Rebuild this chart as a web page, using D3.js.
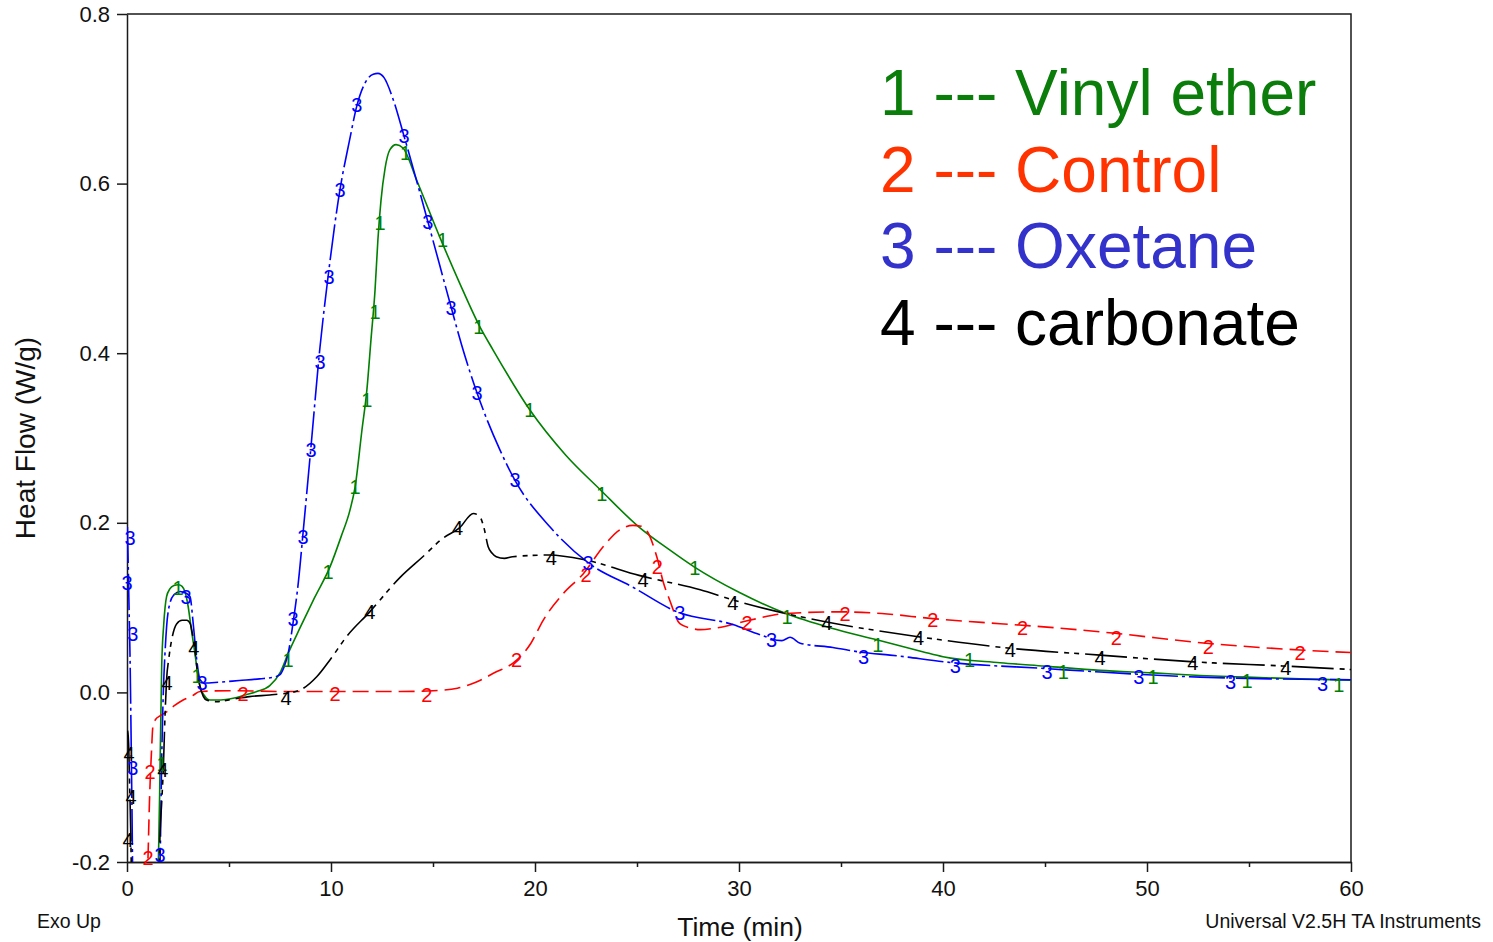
<!DOCTYPE html>
<html lang="en">
<head>
    <meta charset="UTF-8">
    <script src="https://d3js.org/d3.v7.min.js"></script>
    <style>
        body { margin: 0; background: #fff; }
        svg { display: block; font-family: "Liberation Sans", Arial, sans-serif; }
        .axis path, .axis line { stroke: #1a1a1a; stroke-width: 1.5px; }
        .axis text { font-size: 22px; fill: #111; font-family: "Liberation Sans", Arial, sans-serif; }
        .frame { stroke: #1a1a1a; stroke-width: 1.5px; fill: none; }
        .axis-title { font-size: 26.5px; fill: #111; }
        .footer { font-size: 19.5px; fill: #111; }
        .curve-label { font-size: 20px; text-anchor: middle; dominant-baseline: central; }
        .legend { font-size: 64px; }
    </style>
    <title>Heat Flow vs Time</title>
</head>
<body>
<div id="chart"></div>
<script>
// ---- data ----
// 1 --- Vinyl ether
const t1 = [1.5, 1.54, 1.6, 1.7, 1.8, 1.94, 2.1, 2.3, 2.52, 2.7, 2.85, 3.0, 3.15, 3.33, 3.45, 3.58, 3.8, 4.07, 4.6, 5.2, 5.8, 6.36, 7.0, 7.5, 7.9, 8.48, 9.2, 9.95, 10.5, 10.93, 11.18, 11.52, 11.76, 11.96, 12.16, 12.3, 12.45, 12.65, 12.89, 13.19, 13.53, 14.2, 15.4, 16.3, 17.3, 17.94, 19.75, 21.5, 23.2, 25.1, 26.6, 27.8, 30, 32.3, 34.5, 36.75, 39, 40, 42.8, 45, 47.7, 50.3, 52.6, 54.9, 57.5, 60];
const v1 = [-0.25, -0.198, -0.12, 0.03, 0.08, 0.113, 0.122, 0.126, 0.127, 0.125, 0.118, 0.101, 0.075, 0.046, 0.025, 0.007, -0.004, -0.009, -0.009, -0.007, -0.003, 0.001, 0.008, 0.023, 0.046, 0.076, 0.112, 0.148, 0.184, 0.215, 0.242, 0.31, 0.357, 0.416, 0.475, 0.534, 0.58, 0.618, 0.64, 0.646, 0.642, 0.604, 0.533, 0.483, 0.431, 0.404, 0.333, 0.28, 0.239, 0.195, 0.168, 0.148, 0.118, 0.093, 0.076, 0.062, 0.048, 0.042, 0.035, 0.031, 0.026, 0.023, 0.02, 0.018, 0.016, 0.0145];
const lab1 = [[1.72, -0.085], [2.5, 0.123], [3.43, 0.019], [7.89, 0.038], [9.85, 0.142], [11.18, 0.242], [11.76, 0.345], [12.16, 0.449], [12.4, 0.553], [13.66, 0.636], [15.47, 0.533], [17.25, 0.431], [19.75, 0.333], [23.28, 0.234], [27.84, 0.147], [32.35, 0.089], [36.8, 0.056], [41.3, 0.038], [45.9, 0.024], [50.3, 0.018], [54.9, 0.014], [59.4, 0.009]];

// 2 --- Control
const t2 = [0.95, 1.03, 1.1, 1.2, 1.27, 1.4, 1.6, 1.94, 2.3, 2.75, 3.2, 3.58, 5, 8, 11, 13.4, 15, 16.2, 17.1, 17.96, 19.1, 19.8, 20.4, 21.4, 22.37, 23.35, 24.17, 24.8, 25.2, 25.5, 25.97, 26.3, 26.6, 27.1, 27.6, 28.1, 28.9, 30.5, 32.3, 34.95, 37, 39.5, 42.8, 45.1, 48.3, 52.9, 57.5, 60];
const v2 = [-0.25, -0.194, -0.13, -0.07, -0.04, -0.032, -0.028, -0.023, -0.016, -0.009, -0.004, 0.001, 0.002, 0.001, 0.001, 0.001, 0.002, 0.005, 0.012, 0.0225, 0.038, 0.058, 0.085, 0.117, 0.14, 0.172, 0.192, 0.197, 0.196, 0.19, 0.16, 0.129, 0.109, 0.081, 0.076, 0.074, 0.076, 0.085, 0.093, 0.095, 0.093, 0.087, 0.081, 0.077, 0.07, 0.058, 0.05, 0.047];
const lab2 = [[1.03, -0.195], [1.13, -0.094], [5.69, -0.002], [10.2, -0.002], [14.7, -0.003], [19.1, 0.038], [22.5, 0.139], [26.0, 0.148], [30.4, 0.082], [35.2, 0.092], [39.5, 0.085], [43.9, 0.076], [48.5, 0.064], [53.0, 0.053], [57.5, 0.046]];

// 3 --- Oxetane
const t3 = [0.02, 0.06, 0.1, 0.15, 0.2, 0.25, 0.3, 1.5, 1.62, 1.7, 1.78, 1.86, 1.94, 2.1, 2.3, 2.6, 2.9, 3.09, 3.25, 3.42, 3.58, 3.8, 4.5, 5.5, 6.5, 7.2, 7.5, 7.7, 7.9, 8.14, 8.4, 8.63, 9.02, 9.46, 9.85, 10.44, 10.9, 11.27, 11.7, 12.07, 12.3, 12.6, 13.05, 13.58, 14.75, 15.88, 16.4, 17.16, 18.28, 19.02, 20.74, 22.6, 24.8, 26.96, 29.7, 31.03, 32.1, 32.5, 33.0, 34.6, 36.1, 37.4, 40.5, 45.1, 47.7, 52.6, 56, 60];
const v3 = [0.195, 0.15, 0.1, 0.04, -0.05, -0.15, -0.25, -0.25, -0.2, -0.08, 0.0, 0.045, 0.077, 0.105, 0.115, 0.119, 0.117, 0.113, 0.08, 0.038, 0.015, 0.011, 0.012, 0.014, 0.016, 0.018, 0.021, 0.03, 0.046, 0.082, 0.13, 0.188, 0.29, 0.407, 0.489, 0.593, 0.65, 0.692, 0.72, 0.729, 0.73, 0.725, 0.699, 0.656, 0.555, 0.455, 0.41, 0.353, 0.286, 0.25, 0.195, 0.153, 0.124, 0.095, 0.08, 0.068, 0.061, 0.065, 0.058, 0.053, 0.047, 0.044, 0.035, 0.028, 0.024, 0.018, 0.016, 0.015];
const lab3 = [[0.15, 0.182], [0.0, 0.129], [0.29, 0.069], [0.29, -0.089], [1.62, -0.192], [2.89, 0.113], [3.68, 0.011], [8.14, 0.086], [8.63, 0.183], [9.02, 0.286], [9.46, 0.39], [9.9, 0.49], [10.44, 0.593], [11.27, 0.693], [13.58, 0.656], [14.75, 0.555], [15.88, 0.453], [17.16, 0.353], [19.02, 0.25], [22.6, 0.153], [27.1, 0.094], [31.6, 0.062], [36.1, 0.042], [40.6, 0.031], [45.1, 0.024], [49.6, 0.018], [54.1, 0.012], [58.6, 0.01]];

// 4 --- carbonate
const t4 = [0.03, 0.08, 0.12, 0.18, 0.24, 0.3, 1.5, 1.62, 1.7, 1.78, 1.86, 1.94, 2.05, 2.19, 2.44, 2.7, 2.93, 3.1, 3.2, 3.33, 3.45, 3.58, 3.9, 4.4, 5.2, 6.0, 7.0, 7.8, 8.5, 9.3, 10.0, 10.77, 11.9, 13.4, 14.5, 15.5, 16.3, 16.98, 17.3, 17.5, 17.7, 17.9, 18.1, 18.5, 18.9, 20.7, 22.5, 25.1, 28.1, 29.7, 32.3, 34.3, 38.7, 43.3, 47.7, 52.3, 56.8, 60];
const v4 = [-0.045, -0.06, -0.1, -0.16, -0.25, -0.3, -0.3, -0.166, -0.13, -0.09, -0.03, 0.015, 0.04, 0.062, 0.081, 0.085, 0.085, 0.081, 0.07, 0.05, 0.025, 0.007, -0.009, -0.011, -0.008, -0.005, -0.003, -0.001, 0.003, 0.0185, 0.04, 0.066, 0.095, 0.136, 0.16, 0.182, 0.194, 0.211, 0.207, 0.194, 0.172, 0.164, 0.16, 0.158, 0.16, 0.162, 0.156, 0.138, 0.121, 0.109, 0.093, 0.083, 0.066, 0.052, 0.044, 0.036, 0.031, 0.027];
const lab4 = [[0.1, -0.073], [0.2, -0.123], [0.05, -0.174], [1.76, -0.091], [1.96, 0.011], [3.28, 0.052], [7.8, -0.007], [11.9, 0.095], [16.2, 0.194], [20.8, 0.158], [25.3, 0.133], [29.7, 0.105], [34.3, 0.082], [38.8, 0.064], [43.3, 0.05], [47.7, 0.041], [52.25, 0.035], [56.8, 0.029]];

const seriesNames = ["Vinyl ether", "Control", "Oxetane", "carbonate"];
const lineColors = ["#008000", "#ff0000", "#0000ff", "#000000"];
const legendColors = ["#0a7d0a", "#ff3300", "#3333cc", "#000000"];
const dashes = ["none", "16,7", "36,4,3,4", "42,6,5,5,5,6"];

const xTicks = [0, 10, 20, 30, 40, 50, 60];
const xMinorTicks = [5, 15, 25, 35, 45, 55];
const yTicks = [-0.2, 0.0, 0.2, 0.4, 0.6, 0.8];

function draw() {
    // Dimensions
    const dims = { width: 1493, height: 942, left: 127, top: 14, right: 142, bottom: 80 };
    dims.innerW = dims.width - dims.left - dims.right;
    dims.innerH = dims.height - dims.top - dims.bottom;

    const svg = d3.select("#chart")
        .append("svg")
        .attr("width", dims.width)
        .attr("height", dims.height);

    const g = svg.append("g")
        .attr("transform", `translate(${dims.left}, ${dims.top})`);

    // Scales
    const xScale = d3.scaleLinear().domain([0, 60]).range([0, dims.innerW]);
    const yScale = d3.scaleLinear().domain([-0.2, 0.8]).range([dims.innerH, 0]);

    // clip
    svg.append("defs").append("clipPath").attr("id", "plotclip")
        .append("rect")
        .attr("width", dims.innerW)
        .attr("height", dims.innerH);

    // frame (top + right)
    g.append("path")
        .attr("class", "frame")
        .attr("d", `M0,0H${dims.innerW}V${dims.innerH}`);

    // Axes
    const yAxis = d3.axisLeft(yScale)
        .tickValues(yTicks)
        .tickSize(10)
        .tickSizeOuter(0)
        .tickPadding(7)
        .tickFormat(d => d.toFixed(1));
    g.append("g").attr("class", "axis").call(yAxis);

    const xAxis = d3.axisBottom(xScale)
        .tickValues(xTicks)
        .tickSize(10)
        .tickSizeOuter(0)
        .tickPadding(8)
        .tickFormat(d3.format("d"));
    g.append("g").attr("class", "axis")
        .attr("transform", `translate(0, ${dims.innerH})`)
        .call(xAxis);

    const xMinor = d3.axisBottom(xScale)
        .tickValues(xMinorTicks)
        .tickSize(5)
        .tickSizeOuter(0)
        .tickFormat("");
    g.append("g").attr("class", "axis")
        .attr("transform", `translate(0, ${dims.innerH})`)
        .call(xMinor);

    // Series
    const series = [
        { t: t1, v: v1, labels: lab1 },
        { t: t2, v: v2, labels: lab2 },
        { t: t3, v: v3, labels: lab3 },
        { t: t4, v: v4, labels: lab4 }
    ];

    const lineGen = d3.line()
        .x(d => xScale(d[0]))
        .y(d => yScale(d[1]))
        .curve(d3.curveMonotoneX);

    const plot = g.append("g").attr("clip-path", "url(#plotclip)");

    series.forEach((s, i) => {
        const pts = s.t.map((t, k) => [t, s.v[k]]);
        plot.append("path")
            .datum(pts)
            .attr("d", lineGen)
            .attr("fill", "none")
            .attr("stroke", lineColors[i])
            .attr("stroke-width", 1.6)
            .attr("stroke-dasharray", dashes[i]);
    });

    series.forEach((s, i) => {
        g.append("g")
            .selectAll("text")
            .data(s.labels)
            .join("text")
            .attr("class", "curve-label")
            .attr("x", d => xScale(d[0]))
            .attr("y", d => yScale(d[1]))
            .attr("fill", lineColors[i])
            .text(i + 1);
    });

    // Legend
    const legend = svg.append("g").attr("transform", "translate(880, 115)");
    seriesNames.forEach((name, i) => {
        legend.append("text")
            .attr("class", "legend")
            .attr("x", 0)
            .attr("y", i * 76.7)
            .attr("fill", legendColors[i])
            .text(`${i + 1} --- ${name}`);
    });

    // Titles
    svg.append("text")
        .attr("class", "axis-title")
        .attr("x", dims.left + dims.innerW / 2 + 1)
        .attr("y", 936)
        .attr("text-anchor", "middle")
        .text("Time (min)");

    svg.append("text")
        .attr("class", "axis-title")
        .style("font-size", "28px")
        .attr("transform", "translate(35, 438) rotate(-90)")
        .attr("text-anchor", "middle")
        .text("Heat Flow (W/g)");

    svg.append("text")
        .attr("class", "footer")
        .attr("x", 37)
        .attr("y", 928)
        .text("Exo Up");

    svg.append("text")
        .attr("class", "footer")
        .attr("x", 1481)
        .attr("y", 928)
        .attr("text-anchor", "end")
        .text("Universal V2.5H TA Instruments");
}

draw();
</script>
</body>
</html>
